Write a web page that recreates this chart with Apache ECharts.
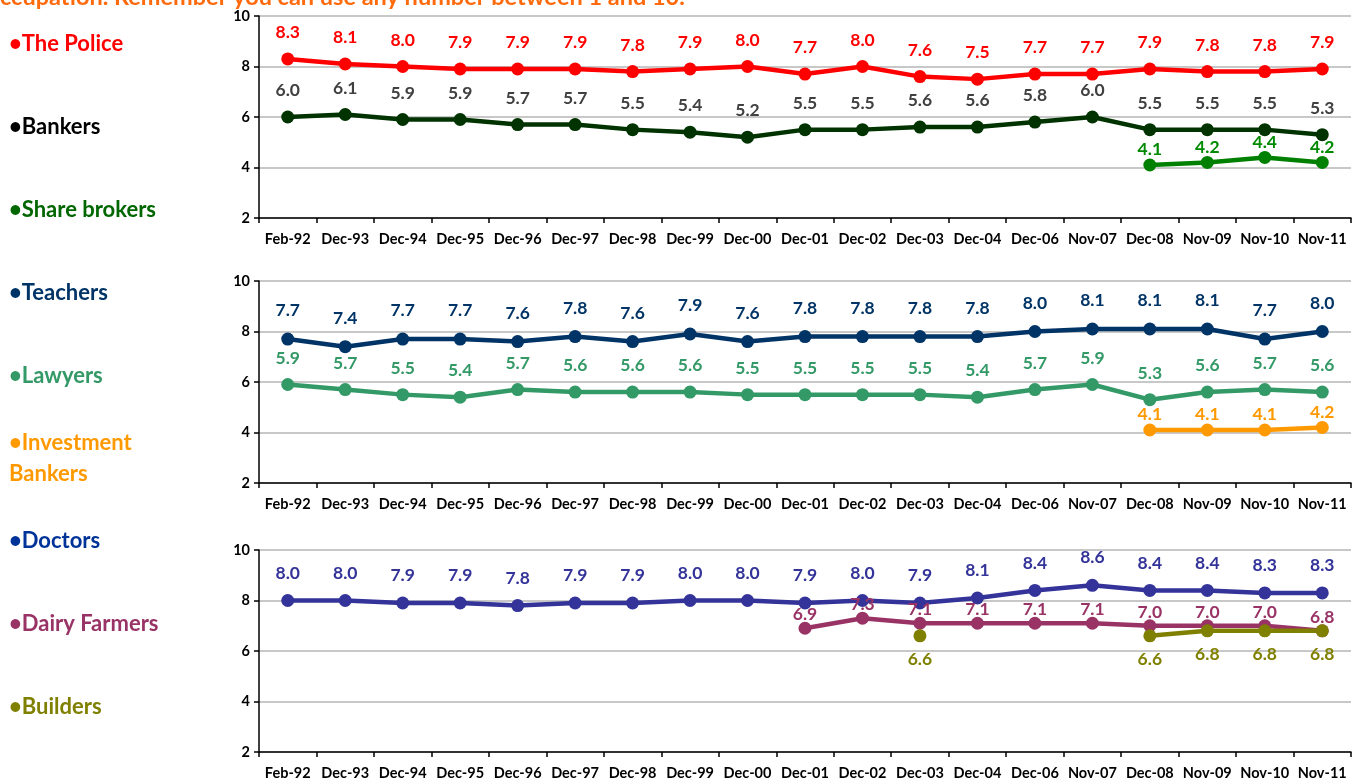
<!DOCTYPE html>
<html>
<head>
<meta charset="utf-8">
<title>Trust in occupations</title>
<script src="https://cdn.jsdelivr.net/npm/echarts@6/dist/echarts.min.js"></script>
<style>
  html, body { margin: 0; padding: 0; background: #ffffff; }
  #chart { width: 1365px; height: 783px; }
</style>
</head>
<body>
<div id="chart"></div>
<script>
// Survey dates (x axis)
const categories = ['Feb-92','Dec-93','Dec-94','Dec-95','Dec-96','Dec-97','Dec-98','Dec-99','Dec-00',
  'Dec-01','Dec-02','Dec-03','Dec-04','Dec-06','Nov-07','Dec-08','Nov-09','Nov-10','Nov-11'];

// Y-axis ticks shared by all three panels
const yTicks = [2, 4, 6, 8, 10];

// Average trust scores (1-10) per occupation; null = not asked that round
const police = [8.3, 8.1, 8.0, 7.9, 7.9, 7.9, 7.8, 7.9, 8.0, 7.7, 8.0, 7.6, 7.5, 7.7, 7.7, 7.9, 7.8, 7.8, 7.9];
const bankers = [6.0, 6.1, 5.9, 5.9, 5.7, 5.7, 5.5, 5.4, 5.2, 5.5, 5.5, 5.6, 5.6, 5.8, 6.0, 5.5, 5.5, 5.5, 5.3];
const shareBrokers = [null, null, null, null, null, null, null, null, null, null, null, null, null, null, null, 4.1, 4.2, 4.4, 4.2];

const teachers = [7.7, 7.4, 7.7, 7.7, 7.6, 7.8, 7.6, 7.9, 7.6, 7.8, 7.8, 7.8, 7.8, 8.0, 8.1, 8.1, 8.1, 7.7, 8.0];
const lawyers = [5.9, 5.7, 5.5, 5.4, 5.7, 5.6, 5.6, 5.6, 5.5, 5.5, 5.5, 5.5, 5.4, 5.7, 5.9, 5.3, 5.6, 5.7, 5.6];
const investmentBankers = [null, null, null, null, null, null, null, null, null, null, null, null, null, null, null, 4.1, 4.1, 4.1, 4.2];

const doctors = [8.0, 8.0, 7.9, 7.9, 7.8, 7.9, 7.9, 8.0, 8.0, 7.9, 8.0, 7.9, 8.1, 8.4, 8.6, 8.4, 8.4, 8.3, 8.3];
const dairyFarmers = [null, null, null, null, null, null, null, null, null, 6.9, 7.3, 7.1, 7.1, 7.1, 7.1, 7.0, 7.0, 7.0, 6.8];
const builders = [null, null, null, null, null, null, null, null, null, null, null, 6.6, null, null, null, 6.6, 6.8, 6.8, 6.8];

const FONT = 'Lato, "Open Sans", sans-serif';

// Panel geometry
const panelTops = [16, 281, 550];
const panelHeight = 202;

const grids = panelTops.map(t => ({ left: 259, right: 14, top: t, height: panelHeight }));

const xAxes = panelTops.map((t, i) => ({
  type: 'category',
  gridIndex: i,
  data: categories,
  boundaryGap: true,
  axisLine: { lineStyle: { color: '#000', width: 1.5 } },
  axisTick: { show: true, length: 5, lineStyle: { color: '#000', width: 1.5 } },
  axisLabel: { color: '#000', fontFamily: FONT, fontWeight: 'bold', fontSize: 14.5, margin: 14, interval: 0 }
}));

const yAxes = panelTops.map((t, i) => ({
  type: 'value',
  gridIndex: i,
  min: yTicks[0],
  max: yTicks[yTicks.length - 1],
  interval: 2,
  axisLine: { show: true, lineStyle: { color: '#000', width: 1.5 } },
  axisTick: { show: true, length: 5, lineStyle: { color: '#000', width: 1.5 } },
  axisLabel: { color: '#000', fontFamily: FONT, fontWeight: 'bold', fontSize: 14.5, margin: 9 },
  splitLine: { show: true, lineStyle: { color: '#c8c8c8', width: 2 } }
}));

function line(name, data, grid, lineColor, labelColor, pos, dist) {
  return {
    name: name,
    type: 'line',
    xAxisIndex: grid,
    yAxisIndex: grid,
    data: data,
    connectNulls: false,
    symbol: 'circle',
    symbolSize: 13,
    showAllSymbol: true,
    lineStyle: { color: lineColor, width: 4.5 },
    itemStyle: { color: lineColor },
    label: {
      show: true,
      position: pos,
      distance: dist,
      color: labelColor,
      fontFamily: FONT,
      fontWeight: 'bold',
      fontSize: 17.5,
      formatter: p => p.value == null ? '' : Number(p.value).toFixed(1)
    },
    emphasis: { disabled: true },
    animation: false
  };
}

const series = [
  line('The Police', police, 0, '#ff0000', '#ff0000', 'top', 11),
  line('Bankers', bankers, 0, '#003300', '#404040', 'top', 11),
  line('Share brokers', shareBrokers, 0, '#008000', '#008a00', 'top', 0),

  line('Teachers', teachers, 1, '#003366', '#003366', 'top', 13),
  line('Lawyers', lawyers, 1, '#339966', '#339966', 'top', 11),
  line('Investment Bankers', investmentBankers, 1, '#ff9900', '#ff9900', 'top', 0),

  line('Doctors', doctors, 2, '#333399', '#333399', 'top', 12),
  line('Dairy Farmers', dairyFarmers, 2, '#993366', '#993366', 'top', -2),
  line('Builders', builders, 2, '#808000', '#808000', 'bottom', 8)
];

// Occupation names down the left side
const sideLabels = [
  { text: '•The Police', y: 45, color: '#ff0000' },
  { text: '•Bankers', y: 128, color: '#000000' },
  { text: '•Share brokers', y: 211, color: '#006600' },
  { text: '•Teachers', y: 294, color: '#003366' },
  { text: '•Lawyers', y: 377, color: '#339966' },
  { text: '•Investment', y: 444, color: '#ff9900' },
  { text: 'Bankers', y: 475, color: '#ff9900' },
  { text: '•Doctors', y: 542, color: '#003399' },
  { text: '•Dairy Farmers', y: 625, color: '#993366' },
  { text: '•Builders', y: 708, color: '#808000' }
];

const graphics = sideLabels.map(s => ({
  type: 'text',
  left: 9,
  top: s.y - 12,
  style: { text: s.text, fill: s.color, font: 'bold 22px ' + FONT }
}));

graphics.push({
  type: 'text',
  left: 0,
  top: -15,
  style: {
    text: 'ccupation. Remember you can use any number between 1 and 10.',
    fill: '#ff6a0d',
    font: 'bold 23.5px ' + FONT
  }
});

const chart = echarts.init(document.getElementById('chart'), null, { renderer: 'canvas' });
chart.setOption({
  backgroundColor: '#ffffff',
  animation: false,
  grid: grids,
  xAxis: xAxes,
  yAxis: yAxes,
  series: series,
  graphic: graphics
});
</script>
</body>
</html>
